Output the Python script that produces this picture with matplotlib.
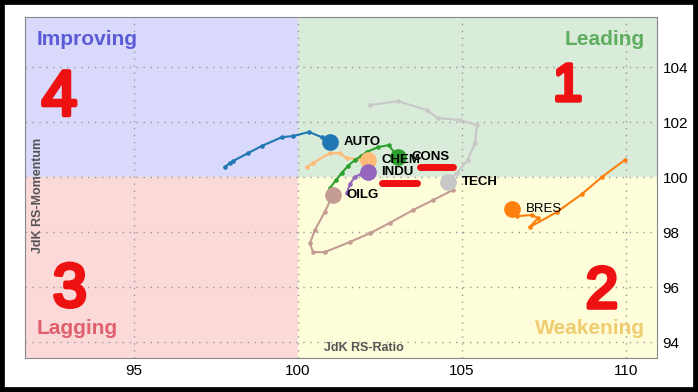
import matplotlib
matplotlib.use("Agg")
import matplotlib.pyplot as plt
import matplotlib.patheffects as pe
from matplotlib.patches import Rectangle

plt.rcParams["font.family"] = ["Liberation Sans", "DejaVu Sans"]

# tails (oldest -> newest), last point is the head
names = ["AUTO", "CHEM", "CONS", "INDU", "OILG", "TECH", "BRES"]
colors = ["#1f77b4", "#ffbb78", "#2ca02c", "#9467bd", "#c49c94", "#c7c7c7", "#ff7f0e"]

auto_x = [97.77, 97.93, 98.02, 98.48, 98.90, 99.51, 99.85, 100.34, 100.73, 100.98]
auto_y = [100.36, 100.51, 100.58, 100.87, 101.13, 101.45, 101.49, 101.64, 101.45, 101.27]
chem_x = [100.27, 100.46, 100.98, 101.28, 101.49, 101.80, 102.13]
chem_y = [100.36, 100.51, 100.87, 100.87, 100.69, 100.65, 100.62]
cons_x = [100.98, 101.16, 101.34, 101.52, 101.74, 101.92, 102.10, 102.44, 102.77, 103.05]
cons_y = [99.60, 99.89, 100.15, 100.40, 100.62, 100.76, 100.91, 101.09, 101.16, 100.73]
indu_x = [101.49, 101.59, 101.74, 101.92, 102.13]
indu_y = [99.42, 99.75, 100.00, 100.11, 100.18]
oilg_x = [104.73, 104.12, 103.51, 102.80, 102.20, 101.59, 100.82, 100.46, 100.37, 100.52, 100.82, 101.07]
oilg_y = [99.53, 99.16, 98.80, 98.33, 97.96, 97.64, 97.27, 97.27, 97.60, 98.07, 98.73, 99.35]
tech_x = [102.20, 103.05, 103.93, 104.27, 104.94, 105.46, 105.40, 105.18, 104.85, 104.57]
tech_y = [102.62, 102.76, 102.44, 102.15, 102.07, 101.89, 101.24, 100.62, 100.15, 99.82]
bres_x = [109.97, 109.27, 108.66, 107.90, 107.07, 107.32, 107.13, 106.68, 106.52]
bres_y = [100.62, 100.00, 99.38, 98.73, 98.18, 98.51, 98.62, 98.58, 98.84]

tails_x = [auto_x, chem_x, cons_x, indu_x, oilg_x, tech_x, bres_x]
tails_y = [auto_y, chem_y, cons_y, indu_y, oilg_y, tech_y, bres_y]

x_ticks = [95, 100, 105, 110]
y_ticks = [94, 96, 98, 100, 102, 104]

fig = plt.figure(figsize=(6.98, 3.92), dpi=100)
ax = fig.add_axes([0.0358, 0.0867, 0.9054, 0.8699])
x0, x1 = 91.68, 110.95
y0, y1 = 93.42, 105.82
ax.set_xlim(x0, x1)
ax.set_ylim(y0, y1)

# quadrant backgrounds
ax.add_patch(Rectangle((x0, 100), 100 - x0, y1 - 100, color="#d9d9fb", zorder=0))
ax.add_patch(Rectangle((100, 100), x1 - 100, y1 - 100, color="#d9ebd9", zorder=0))
ax.add_patch(Rectangle((x0, y0), 100 - x0, 100 - y0, color="#fbd9d9", zorder=0))
ax.add_patch(Rectangle((100, y0), x1 - 100, 100 - y0, color="#fdfdd9", zorder=0))

ax.set_xticks(x_ticks)
ax.set_yticks(y_ticks)
ax.grid(True, linestyle=(0, (1, 4)), color="#999999", lw=1)
ax.yaxis.tick_right()
ax.tick_params(length=0, labelsize=11, pad=4)
for s in ax.spines.values():
    s.set_color("#888888")

for n, c, xs, ys in zip(names, colors, tails_x, tails_y):
    ax.plot(xs, ys, color=c, lw=1.5, marker="o", markersize=2.3, zorder=3)
for n, c, xs, ys in zip(names, colors, tails_x, tails_y):
    ax.plot(xs[-1], ys[-1], "o", color=c, markersize=11, zorder=4)
    ax.annotate(n, (xs[-1], ys[-1]), xytext=(10, 0), textcoords="offset points",
                va="center", ha="left", fontsize=9.5,
                fontweight="normal" if n == "BRES" else "bold", zorder=5)

# quadrant names
ax.text(0.019, 0.933, "Improving", transform=ax.transAxes, color="#5b5bd8",
        fontsize=15, fontweight="bold", va="center", ha="left")
ax.text(0.981, 0.933, "Leading", transform=ax.transAxes, color="#5fae5f",
        fontsize=15, fontweight="bold", va="center", ha="right")
ax.text(0.019, 0.088, "Lagging", transform=ax.transAxes, color="#e0606e",
        fontsize=15, fontweight="bold", va="center", ha="left")
ax.text(0.981, 0.088, "Weakening", transform=ax.transAxes, color="#f0cc70",
        fontsize=15, fontweight="bold", va="center", ha="right")

ax.text(0.021, 0.478, "JdK RS-Momentum", transform=ax.transAxes, rotation=90,
        color="#555555", fontsize=9, fontweight="bold", va="center", ha="center")
ax.text(0.536, 0.012, "JdK RS-Ratio", transform=ax.transAxes,
        color="#555555", fontsize=9, fontweight="bold", va="bottom", ha="center")

# hand-drawn red marks
red = "#ee1111"
thick = [pe.withStroke(linewidth=3, foreground=red)]
for s, xx, yy, fs in [("4", 92.73, 102.25, 46), ("1", 108.23, 102.78, 38),
                      ("3", 93.05, 95.3, 44), ("2", 109.27, 95.25, 42)]:
    ax.text(xx, yy, s, color=red, fontsize=fs, ha="center", va="baseline",
            path_effects=thick, zorder=6)
ax.plot([103.72, 104.73], [100.36, 100.36], color=red, lw=5, solid_capstyle="round", zorder=6)
ax.plot([102.56, 103.63], [99.78, 99.78], color=red, lw=5, solid_capstyle="round", zorder=6)

# black frame around the picture
fig.patches.append(Rectangle((0, 0), 1, 1, transform=fig.transFigure, fill=False,
                             edgecolor="black", lw=7))

fig.savefig("out.png", dpi=100)
